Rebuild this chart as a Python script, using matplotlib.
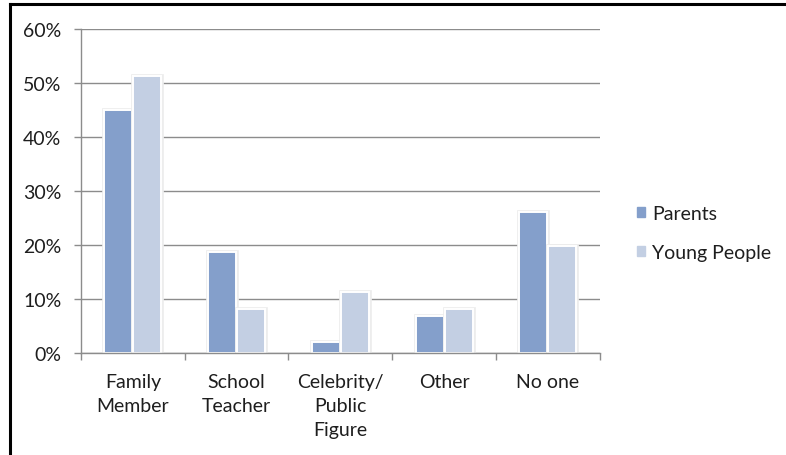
import matplotlib.pyplot as plt
import matplotlib.patheffects as pe
import numpy as np
from matplotlib.lines import Line2D
from matplotlib.ticker import FixedLocator, PercentFormatter

plt.rcParams["font.family"] = ["Lato", "DejaVu Sans"]

categories = ["Family\nMember", "School\nTeacher", "Celebrity/\nPublic\nFigure", "Other", "No one"]
parents = [45.1, 18.8, 2.2, 7.0, 26.2]
young_people = [51.3, 8.3, 11.3, 8.3, 19.9]
series_names = ["Parents", "Young People"]

parent_color = "#849fcb"
young_color = "#c3cfe3"
grid_color = "#8c8c8c"
text_color = "#1e1e1e"

fig = plt.figure(figsize=(7.86, 4.56), dpi=100)
ax = fig.add_axes([0.103, 0.2226, 0.66, 0.7116])

x = np.arange(len(categories))
w = 0.27
# white outline plus a faint grey halo around each bar
halo = [pe.Stroke(linewidth=3.4, foreground="#ededed"), pe.Normal()]
common = dict(edgecolor="white", linewidth=1.4, zorder=3)
b1 = ax.bar(x - w / 2 - 0.005, parents, w, color=parent_color, **common)
b2 = ax.bar(x + w / 2 + 0.005, young_people, w, color=young_color, **common)
for bars in (b1, b2):
    for patch in bars:
        patch.set_path_effects(halo)

ax.set_xlim(-0.5, len(categories) - 0.5)
ax.set_ylim(0, 60)
ax.set_yticks(range(0, 61, 10))
ax.yaxis.set_major_formatter(PercentFormatter(decimals=0))
ax.grid(axis="y", color=grid_color, linewidth=1.0, zorder=0)

ax.set_xticks(x)
ax.set_xticklabels(categories, linespacing=1.5)
ax.xaxis.set_minor_locator(FixedLocator(np.arange(-0.5, len(categories), 1.0)))
ax.tick_params(axis="x", which="major", length=0, pad=14, labelsize=14, colors=text_color)
ax.tick_params(axis="x", which="minor", length=5, width=1, color=grid_color)
ax.tick_params(axis="y", length=5, width=1, color=grid_color, pad=9, labelsize=14,
               labelcolor=text_color)

for side in ("top", "right"):
    ax.spines[side].set_visible(False)
for side in ("left", "bottom"):
    ax.spines[side].set_color(grid_color)
    ax.spines[side].set_linewidth(1.0)
    ax.spines[side].set_zorder(4)

handles = [plt.Rectangle((0, 0), 1, 1, color=c) for c in (parent_color, young_color)]
ax.legend(handles, series_names, loc="center left", bbox_to_anchor=(1.038, 0.372),
          frameon=False, fontsize=14, handlelength=0.42, handleheight=0.42,
          handletextpad=0.35, labelspacing=1.15, labelcolor=text_color)

# frame lines along the top and left edges
fig.add_artist(Line2D([10 / 786, 10 / 786], [0, 1 - 5 / 456], color="black", linewidth=2.2,
                      transform=fig.transFigure))
fig.add_artist(Line2D([10 / 786, 1], [1 - 5 / 456, 1 - 5 / 456], color="black", linewidth=2.2,
                      transform=fig.transFigure))

fig.savefig("out.png", dpi=100)
